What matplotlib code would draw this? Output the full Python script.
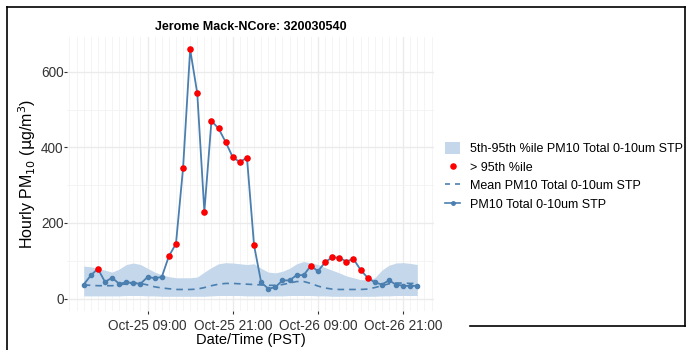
import numpy as np
import pandas as pd
import matplotlib
matplotlib.use("Agg")
import matplotlib.pyplot as plt
import matplotlib.dates as mdates
from matplotlib.patches import Patch
from matplotlib.lines import Line2D

plt.rcParams['font.family'] = ['Liberation Sans', 'DejaVu Sans']

# Hourly observations, Oct-25 00:00 through Oct-26 23:00 (PST)
times = pd.date_range("2020-10-25 00:00", periods=48, freq="h")

pm10 = [37, 61, 79, 44, 55, 39, 43, 41, 39, 57, 54, 57,
        112, 145, 345, 659, 543, 230, 470, 450, 414, 374, 361, 373,
        141, 43, 26, 30, 48, 48, 62, 62, 87, 72, 96, 109,
        108, 98, 105, 76, 55, 43, 37, 48, 37, 34, 33, 34]

mean_pm10 = [36, 35, 34, 34, 34, 36, 39, 41, 40, 36, 31, 28,
             26, 24, 24, 24, 25, 29, 34, 38, 40, 40, 39, 38,
             37, 36, 35, 35, 37, 41, 45, 45, 40, 33, 28, 25,
             24, 24, 24, 24, 25, 29, 34, 39, 41, 41, 40, 40]

p05 = [7, 7, 7, 7, 7, 7, 8, 8, 8, 7, 7, 6,
       6, 6, 6, 6, 6, 6, 7, 8, 8, 8, 8, 7,
       7, 7, 7, 7, 7, 8, 8, 8, 8, 7, 7, 6,
       6, 6, 6, 6, 6, 6, 7, 7, 8, 8, 8, 8]

p95 = [86, 84, 80, 75, 70, 78, 90, 94, 90, 80, 70, 63,
       58, 55, 55, 55, 57, 70, 82, 92, 95, 94, 92, 90,
       92, 80, 70, 68, 72, 80, 92, 98, 94, 90, 82, 75,
       68, 60, 55, 50, 50, 55, 75, 88, 94, 95, 93, 90]

# Hours flagged as exceeding the 95th percentile
above_p95 = [False, False, True, False, False, False, False, False, False, False, False, False,
             True, True, True, True, True, True, True, True, True, True, True, True,
             True, False, False, False, False, False, False, False, True, False, True, True,
             True, True, True, True, True, False, False, False, False, False, False, False]

title = "Jerome Mack-NCore: 320030540"
xlabel = "Date/Time (PST)"
ylabel = r"Hourly PM$_{10}$ ($\mathrm{\mu}$g/m$^3$)"

line_col = "#4a7fb0"
band_col = "#c5d8eb"

fig = plt.figure(figsize=(6.91, 3.5), dpi=100)
W, H = 691, 350
ax = fig.add_axes([67 / W, 1 - 311 / H, (434 - 67) / W, (311 - 37) / H])

ax.fill_between(times, p05, p95, color=band_col, lw=0, zorder=1)
ax.plot(times, mean_pm10, color=line_col, lw=1.2, ls=(0, (4, 3)), zorder=2)
ax.plot(times, pm10, color=line_col, lw=1.3, marker="o", ms=3, zorder=3)
flag = np.array(above_p95)
ax.plot(times[flag], np.array(pm10)[flag], ls="none", marker="o",
        ms=3.7, color="#ff0000", zorder=4)

# ggplot-like expansion of the scales
t0, t1 = mdates.date2num(times[0]), mdates.date2num(times[-1])
dx = (t1 - t0) * 0.05
ax.set_xlim(t0 - dx, t1 + dx)
ymin = min(min(p05), min(pm10), 0)
ymax = max(max(p95), max(pm10))
dy = (ymax - ymin) * 0.05
ax.set_ylim(ymin - dy, ymax + dy)

ax.xaxis.set_major_locator(mdates.HourLocator(byhour=[9, 21]))
ax.xaxis.set_minor_locator(mdates.HourLocator())
ax.xaxis.set_major_formatter(mdates.DateFormatter("%b-%d %H:%M"))
ax.set_yticks([0, 200, 400, 600])
ax.set_yticks([100, 300, 500], minor=True)

ax.grid(True, which="major", color="#ebebeb", lw=1.0)
ax.grid(True, which="minor", color="#f2f2f2", lw=0.6)
ax.set_axisbelow(True)
for s in ax.spines.values():
    s.set_visible(False)
ax.tick_params(which="major", length=2, color="#333333", width=0.8,
               labelsize=9.8, labelcolor="#333333")
ax.tick_params(axis="y", pad=0.5)
ax.tick_params(axis="x", pad=4)
ax.tick_params(which="minor", length=0)

ax.set_title(title, fontsize=9, fontweight="bold", pad=5)
ax.set_xlabel(xlabel, fontsize=10.5, labelpad=0)
ax.set_ylabel(ylabel, fontsize=11.5, labelpad=2)

handles = [
    Patch(facecolor=band_col, edgecolor="none"),
    Line2D([], [], ls="none", marker="o", ms=3.7, color="#ff0000"),
    Line2D([], [], color=line_col, lw=1.2, ls=(0, (3, 3))),
    Line2D([], [], color=line_col, lw=1.2, marker="o", ms=2.5),
]
labels = ["5th-95th %ile PM10 Total 0-10um STP", "> 95th %ile",
          "Mean PM10 Total 0-10um STP", "PM10 Total 0-10um STP"]
fig.legend(handles, labels, loc="upper left", bbox_to_anchor=(440 / W, 1 - 137 / H),
           frameon=False, fontsize=9, handlelength=1.2, handleheight=1.1,
           handletextpad=0.8, labelspacing=0.42, borderaxespad=0)

# outer frame
frame = dict(color="black", lw=1.2, transform=fig.transFigure)
fig.add_artist(Line2D([7 / W, 7 / W], [0, 1 - 7 / H], **frame))
fig.add_artist(Line2D([7 / W, 685 / W], [1 - 7 / H, 1 - 7 / H], **frame))
fig.add_artist(Line2D([685 / W, 685 / W], [1 - 7 / H, 1 - 326 / H], **frame))
fig.add_artist(Line2D([470 / W, 685 / W], [1 - 326 / H, 1 - 326 / H], **frame))

fig.savefig("out.png", dpi=100)
